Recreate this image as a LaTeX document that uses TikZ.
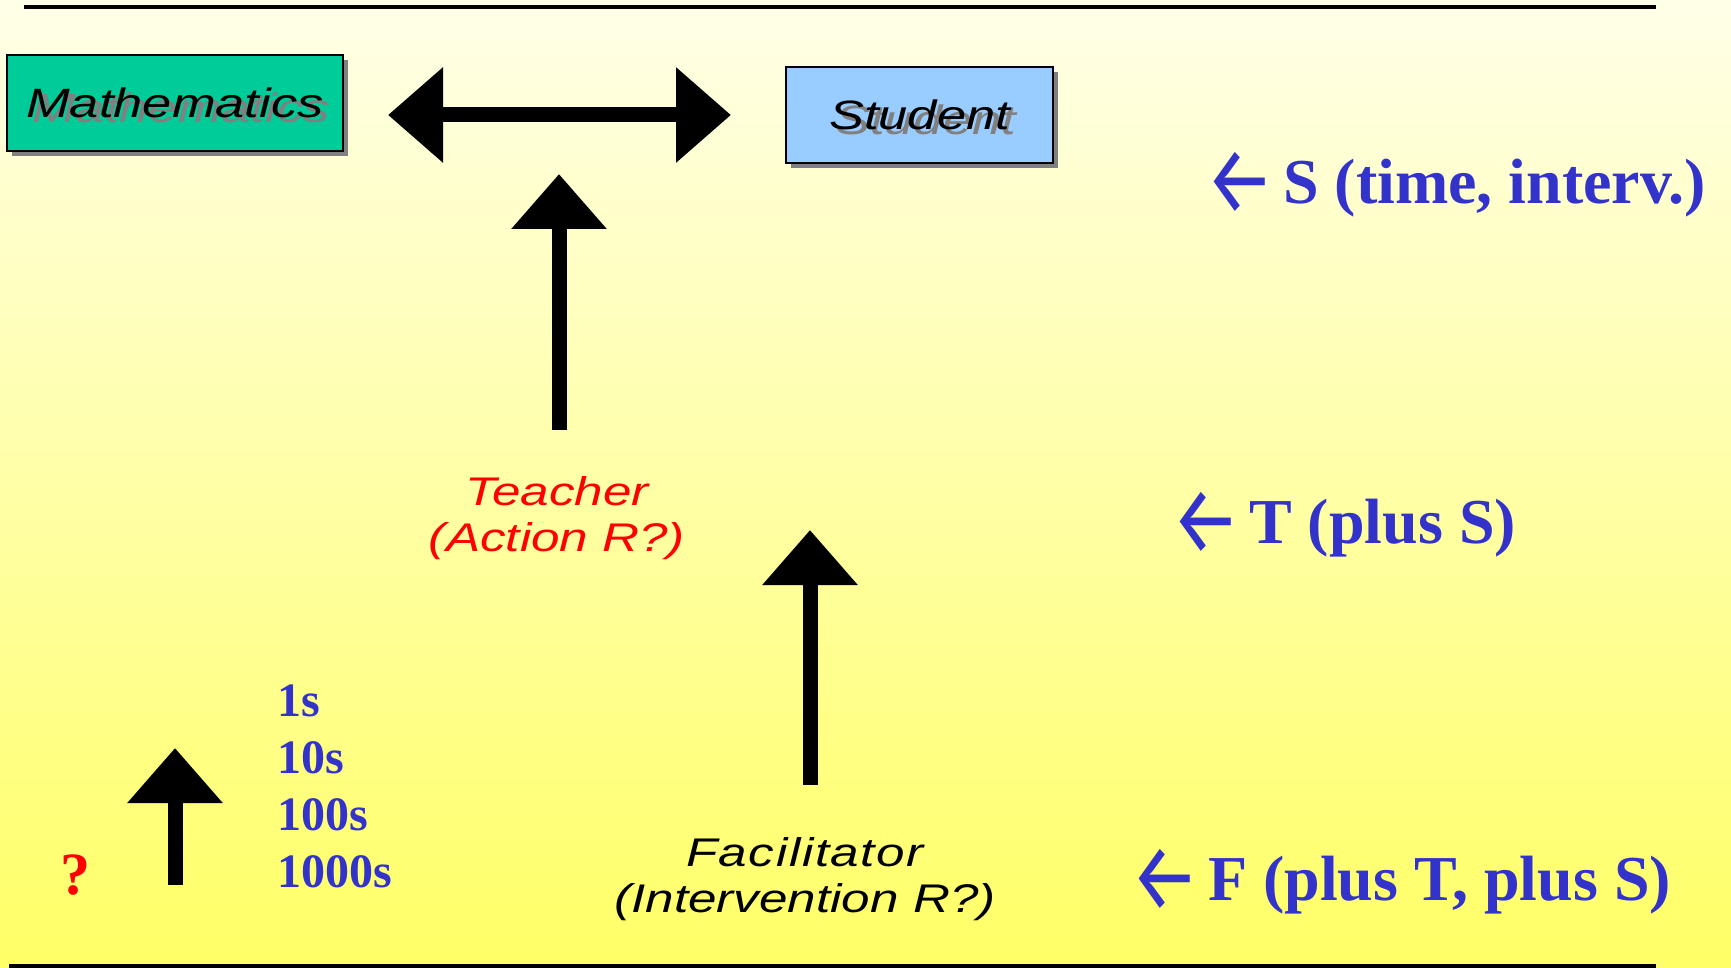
\documentclass[tikz,border=0pt]{standalone}
\usepackage{fontspec}
\setmainfont{Liberation Serif}
\newfontfamily\slidesans[FakeStretch=1.28]{Liberation Sans}
\newfontfamily\arrowfont{Fira Sans}
\usetikzlibrary{arrows.meta,positioning,shadows}

\definecolor{bgtop}{RGB}{255,255,232}
\definecolor{bgbot}{RGB}{255,255,102}
\definecolor{mathgreen}{RGB}{0,204,153}
\definecolor{studblue}{RGB}{153,204,255}
\definecolor{lblblue}{RGB}{51,51,204}

% text with a grey copy behind it
\newcommand{\shadowed}[1]{\rlap{\hspace{6pt}\raisebox{-5pt}[0pt][0pt]{\textcolor{black!50}{#1}}}#1}
% left arrow in front of the level labels
\newcommand{\larr}{\makebox[78pt][l]{\raisebox{-10pt}{\scalebox{1.2}[1.5]{\arrowfont\mdseries ←}}}}

\begin{document}
\begin{tikzpicture}[x=1pt, y=-1pt,
    fat/.tip={Triangle[length=55pt, width=92pt]},
    bigarrow/.style={line width=15pt, -fat},
    box/.style={draw=black, line width=2pt, inner sep=0pt, minimum height=96pt,
      font=\slidesans\itshape\fontsize{41}{46}\selectfont,
      drop shadow={shadow xshift=5pt, shadow yshift=-5pt, fill=black!50, opacity=1}},
    role/.style={align=center, inner sep=0pt, font=\slidesans\itshape\fontsize{40}{46}\selectfont},
    level/.style={anchor=base west, inner sep=0pt, text=lblblue, font=\bfseries\fontsize{64}{70}\selectfont},
    secs/.style={anchor=base west, inner sep=0pt, text=lblblue, font=\bfseries\fontsize{48}{57}\selectfont}]
    % Background and rules
    \shade[top color=bgtop, bottom color=bgbot] (0,0) rectangle (1731,968);
    \useasboundingbox (0,0) rectangle (1731,968);
    \draw[line width=4.5pt] (24,7) -- (1656,7);
    \draw[line width=5pt] (9,966) -- (1656,966);

    % Mathematics and Student boxes
    \node[box, fill=mathgreen, minimum width=336pt] (math) at (175,103) {\shadowed{Mathematics}};
    \node[box, fill=studblue, minimum width=267pt] (stud) at (919.5,115) {\shadowed{Student}};
    \draw[bigarrow, fat-fat] ([xshift=44pt]math.east |- stud) -- ([xshift=-54pt]stud.west);

    % Teacher
    \node[role, text=red] (teach) at (557,518) {Teacher\\(Action R?)};
    \coordinate (tchtip) at (559,174);
    \draw[bigarrow] (tchtip |- 0,430) -- (tchtip);

    % Facilitator
    \node[role] (facil) at (805,879) {\addfontfeature{LetterSpace=4}Facilitator\\(Intervention R?)};
    \coordinate (factip) at (810,530);
    \draw[bigarrow] (factip |- 0,785) -- (factip);

    % Time scales
    \node[anchor=base, inner sep=0pt, text=red, font=\bfseries\fontsize{60}{60}\selectfont] (qmark) at (75,894) {?};
    \coordinate (smbot) at (175,885);
    \coordinate (smtip) at (175,748);
    \draw[bigarrow] (smbot) -- (smtip);
    \foreach \t [count=\i] in {1s,10s,100s,1000s}
        \node[secs] (sec\i) at (277,659+57*\i) {\t};

    % Levels
    \node[level] (lvlS) at (1205,204) {\larr S (time, interv.)};
    \node[level] (lvlT) at (1171,543) {\larr T (plus S)};
    \node[level] (lvlF) at (1130,900) {\larr F (plus T, plus S)};
\end{tikzpicture}
\end{document}
